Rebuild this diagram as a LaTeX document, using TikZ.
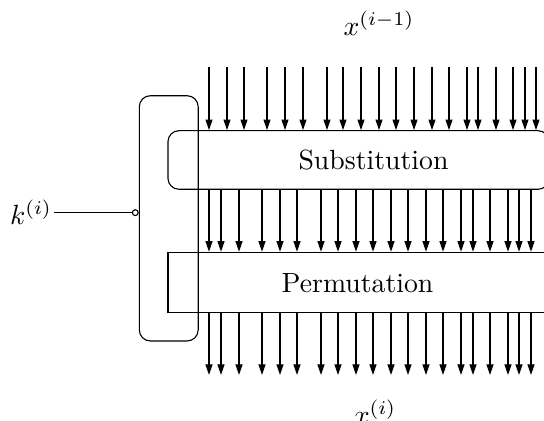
\documentclass[tikz,border=0pt]{standalone}
\usepackage{amsmath}
\usetikzlibrary{positioning, arrows.meta}

\begin{document}
\begin{tikzpicture}[
        x=0.36pt, y=-0.36pt,
        layer/.style={draw, rectangle, inner sep=0pt, minimum width=137.2pt},
        keybox/.style={draw, rectangle, rounded corners, inner sep=0pt, minimum width=21.2pt, minimum height=88.3pt},
        arrow/.style={-{Triangle[length=3.8pt, width=2.5pt]}},
        keyline/.style={-{Circle[open, length=2.5pt]}},
        label_text/.style={anchor=base, inner sep=0pt}
    ]

        \useasboundingbox (0,0) rectangle (544,421);
        \clip (0,0) rectangle (544,421);

        % layers of one round
        \node[layer, rounded corners, minimum height=21.1pt] (subst) at (358.5,160) {};
        \node[layer, minimum height=21.6pt] (perm) at (358.5,282.3) {};
        \node[label_text] (substtext) at (373.5,170) {Substitution};
        \node[label_text] (permtext) at (357.5,293) {Permutation};

        % round key
        \node[keybox] (key) at (168.75,218.35) {};
        \node[label_text] (k) at (31,225) {$k^{(i)}$};
        \draw[keyline] ([xshift=0.5pt]k.east) -- (k.east -| key.west);

        % round input and output
        \node[label_text] (xin) at (379,36) {$x^{(i-1)}$};
        \node[label_text] (xout) at (375,425) {$x^{(i)}$};

        \foreach \x in {209,227,244,267,285,303,327,343,361,379,396,414,432,449,467,478,496,513,525,536}
            \draw[arrow] (\x,67) -- ({\x},0 |- subst.north);

        \foreach \x in {209,221,239,262,280,297,321,338,356,373,391,408,426,443,461,473,490,508,519,531} {
            \draw[arrow] ({\x},0 |- subst.south) -- ({\x},0 |- perm.north);
            \draw[arrow] ({\x},0 |- perm.south) -- (\x,375);
        }

    \end{tikzpicture}
\end{document}
